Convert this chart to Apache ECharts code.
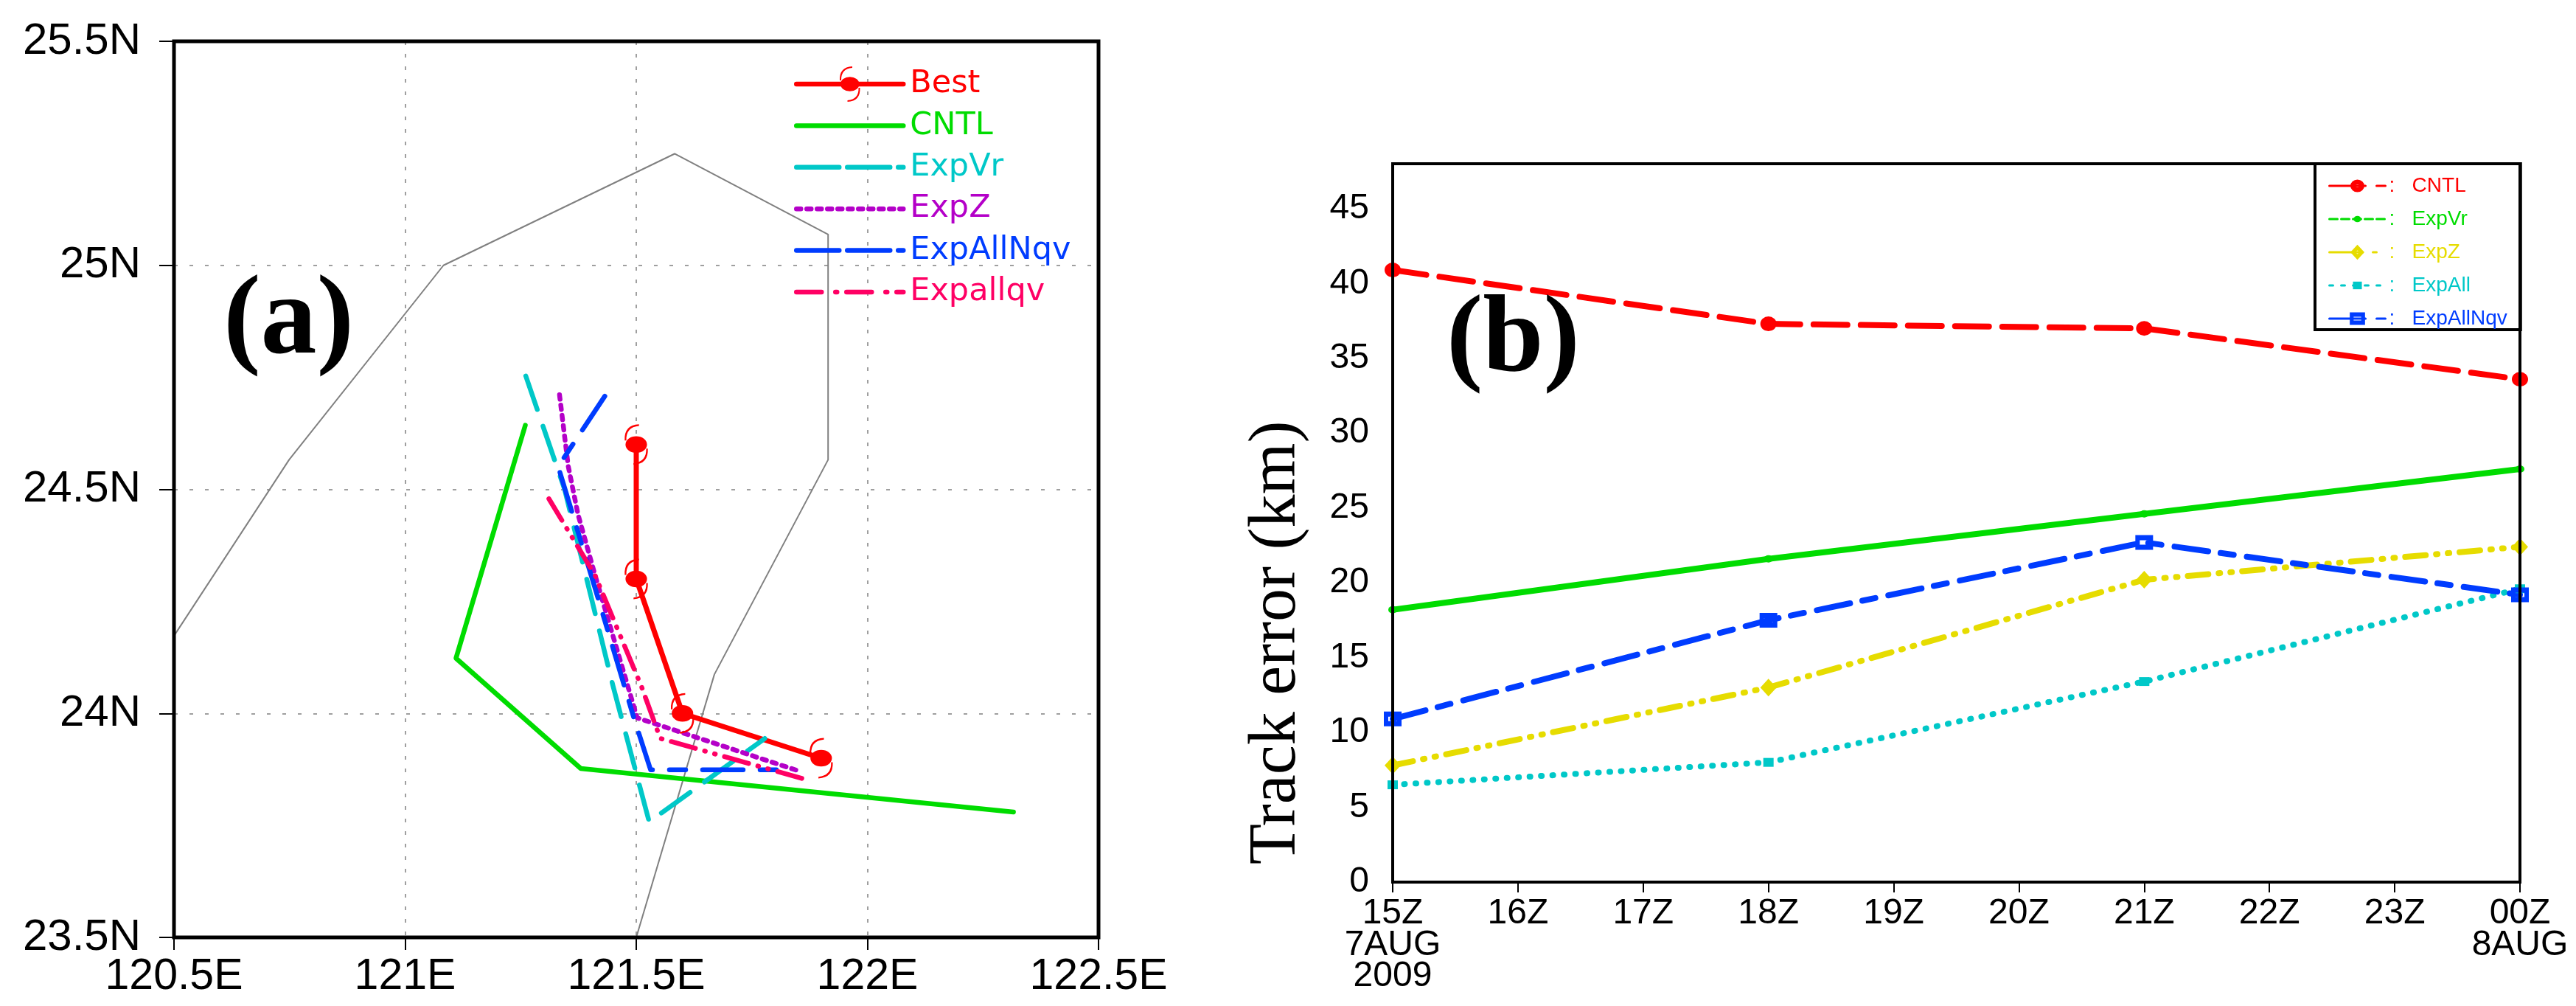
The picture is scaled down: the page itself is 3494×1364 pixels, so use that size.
<!DOCTYPE html>
<html><head><meta charset="utf-8">
<style>html,body{margin:0;padding:0;background:#fff}#c{width:3494px;height:1364px}</style>
<script src="https://cdn.jsdelivr.net/npm/echarts@6/dist/echarts.min.js"></script>
</head><body><div id="c"></div>
<script>
// Panel (a): tracks as [lon, lat]
const coast = [[120.5,24.173],[120.749,24.566],[121.083,25.0],[121.583,25.249],[121.915,25.069],[121.915,24.566],[121.669,24.087],[121.5,23.5]];
const trackBest = [[121.5,24.6],[121.5,24.3],[121.6,24.0],[121.9,23.9]];
const trackCNTL = [[121.26,24.643],[121.11,24.123],[121.38,23.877],[122.316,23.78]];
const trackExpVr = [[121.261,24.753],[121.345,24.5],[121.45,24.06],[121.528,23.758],[121.778,23.944]];
const trackExpZ = [[121.334,24.711],[121.353,24.551],[121.374,24.444],[121.411,24.308],[121.502,23.99],[121.85,23.872]];
const trackExpAllNqv = [[121.432,24.708],[121.331,24.551],[121.411,24.279],[121.496,23.986],[121.531,23.874],[121.826,23.874]];
const trackExpallqv = [[121.311,24.479],[121.411,24.308],[121.512,24.058],[121.552,23.944],[121.878,23.849]];
// Panel (b): track error (km)
const hours = ['15Z\n7AUG\n2009','16Z','17Z','18Z','19Z','20Z','21Z','22Z','23Z','00Z\n8AUG'];
const errCNTL = [40.9,null,null,37.3,null,null,37.0,null,null,33.6];
const errExpVr = [18.2,null,null,21.6,null,null,24.6,null,null,27.6];
const errExpZ = [7.8,null,null,13.0,null,null,20.2,null,null,22.4];
const errExpAll = [6.5,null,null,8.0,null,null,13.4,null,null,19.6];
const errExpAllNqv = [10.9,null,null,17.5,null,null,22.7,null,null,19.2];
const errorTicks = [0,5,10,15,20,25,30,35,40,45];

const RED='#ff0000',GREEN='#00dc00',TEAL='#00c8c8',PURPLE='#b400c8',BLUE='#003cff',PINK='#ff0064',YELLOW='#e6dc00',GRAY='#808080';
const SANS='"Liberation Sans"', LEG='"DejaVu Sans"', SERIF='"Liberation Serif"';

const typhoon='path://M-24.5 -24.5L-24.5 -24.5M24.5 24.5L24.5 24.5M-13 0A13 10 0 1 1 13 0A13 10 0 1 1 -13 0Z'+
 'M3.3 -24.5Q-15 -23.5 -14 -5L-12 -5Q-12.7 -21 3.3 -22.5Z'+
 'M-3.3 24.5Q15 23.5 14 5L12 5Q12.7 21 -3.3 22.5Z';
const pad='M-13 -13L-13 -13M13 13L13 13';
const mkRing='path://'+pad+'M-11 0A11 10 0 1 1 11 0A11 10 0 1 1 -11 0ZM-3 0A3 2 0 1 0 3 0A3 2 0 1 0 -3 0Z';
const mkDot='path://'+pad+'M-6 0A6 5 0 1 1 6 0A6 5 0 1 1 -6 0Z';
const mkDiamond='path://'+pad+'M0 -12L11 0L0 12L-11 0ZM0 -3L-3 0L0 3L3 0Z';
const mkSquare='path://'+pad+'M-7 -6L7 -6L7 6L-7 6Z';
const mkBox='path://'+pad+'M-12 -10L12 -10L12 10L-12 10ZM-6 -3L-6 3L6 3L6 -3Z';

function track(name,data,color,type,extra){
  return Object.assign({name,type:'line',xAxisIndex:0,yAxisIndex:0,data,color,symbol:'none',silent:true,animation:false,clip:false,
    lineStyle:{color,width:6.5,type,cap:'round',join:'round'},itemStyle:{color}},extra||{});
}
function err(name,data,color,type,symbol,w){
  return {name:'b '+name,type:'line',xAxisIndex:1,yAxisIndex:1,data,color,connectNulls:true,symbol,symbolSize:26,symbolKeepAspect:true,showSymbol:true,
    silent:true,animation:false,clip:false,lineStyle:{color,width:w||8,type,cap:'round',join:'round'},itemStyle:{color}};
}
const hide={opacity:0};
const legA=[['Best',RED,{},'solid'],['CNTL',GREEN,hide,'solid'],['ExpVr',TEAL,hide,[58,11]],['ExpZ',PURPLE,hide,[6,8]],['ExpAllNqv',BLUE,hide,[58,11]],['Expallqv',PINK,hide,[34,19,2,13]]];
const legB=[['CNTL',RED,[49,15,13,200]],['ExpVr',GREEN,[11,5]],['ExpZ',YELLOW,[45,14,5,200]],['ExpAll',TEAL,[5,11]],['ExpAllNqv',BLUE,[49,15,13,200]]];

const option={
  backgroundColor:'#fff',
  animation:false,
  grid:[
    {left:236,top:56,width:1254,height:1215,containLabel:false,show:true,borderColor:'#000',borderWidth:5,backgroundColor:'transparent',z:5},
    {left:1889,top:222,width:1529,height:974,containLabel:false,show:true,borderColor:'#000',borderWidth:4,backgroundColor:'transparent',z:5}
  ],
  xAxis:[
    {gridIndex:0,type:'value',min:120.5,max:122.5,interval:0.5,axisLine:{show:false},
     axisTick:{length:17,lineStyle:{color:'#000',width:2}},
     axisLabel:{margin:24,color:'#000',fontFamily:SANS,fontSize:59,formatter:v=>v+'E'},
     splitLine:{show:true,lineStyle:{color:GRAY,width:1.5,type:[5,12]}}},
    {gridIndex:1,type:'category',data:hours,boundaryGap:false,axisLine:{show:false},
     axisTick:{show:true,alignWithLabel:true,length:14,interval:0,lineStyle:{color:'#000',width:2}},
     axisLabel:{interval:0,margin:22,color:'#000',fontFamily:SANS,fontSize:48,lineHeight:42.5,align:'center',verticalAlign:'top',hideOverlap:false},
     splitLine:{show:false}}
  ],
  yAxis:[
    {gridIndex:0,type:'value',min:23.5,max:25.5,interval:0.5,axisLine:{show:false},
     axisTick:{length:20,lineStyle:{color:'#000',width:2}},
     axisLabel:{margin:45,color:'#000',fontFamily:SANS,fontSize:60,formatter:v=>v+'N'},
     splitLine:{show:true,lineStyle:{color:GRAY,width:1.5,type:[5,16]}}},
    {gridIndex:1,type:'value',min:0,max:48,interval:5,axisLine:{show:false},
     axisTick:{length:16,customValues:errorTicks,lineStyle:{color:'#000',width:2}},
     axisLabel:{margin:32,color:'#000',fontFamily:SANS,fontSize:48,customValues:errorTicks},
     splitLine:{show:false},
     name:'Track error (km)',nameLocation:'start',nameRotate:90,nameGap:-24,nameMoveOverlap:false,
     nameTextStyle:{fontFamily:SERIF,fontSize:90,color:'#000',align:'left',verticalAlign:'bottom',padding:[0,0,112,0]}}
  ],
  legend:[
    {left:1077,top:90,orient:'vertical',padding:0,itemWidth:145,itemHeight:60,itemGap:8.4,selectedMode:false,
     data:legA.map(([name,color,it,dash])=>({name,textStyle:{color,fontFamily:LEG,fontSize:43,padding:[0,0,0,4]},itemStyle:it,lineStyle:{width:6.5,type:dash}}))},
    {left:3140,top:222,orient:'vertical',padding:[16,18,1,18],itemWidth:76,itemHeight:28,itemGap:17,selectedMode:false,
     borderColor:'#000',borderWidth:4,backgroundColor:'#fff',
     formatter:n=>':   '+n.slice(2),
     data:legB.map(([name,color,dash])=>({name:'b '+name,textStyle:{color,fontFamily:SANS,fontSize:28,padding:[0,0,18,0]},lineStyle:{width:3,type:dash}}))}
  ],
  graphic:[
    {type:'text',left:303,top:363,z:20,style:{text:'(a)',fontFamily:SERIF,fontWeight:'bold',fontSize:152,fill:'#000'}},
    {type:'text',left:1962,top:390,z:20,style:{text:'(b)',fontFamily:SERIF,fontWeight:'bold',fontSize:148,fill:'#000'}}
  ],
  series:[
    track('coast',coast,GRAY,'solid',{lineStyle:{color:GRAY,width:2}}),
    track('Best',trackBest,RED,'solid',{symbol:typhoon,symbolSize:55,symbolKeepAspect:true,showSymbol:true,lineStyle:{color:RED,width:7,cap:'round'}}),
    track('CNTL',trackCNTL,GREEN,'solid'),
    track('ExpVr',trackExpVr,TEAL,[48,24]),
    track('ExpZ',trackExpZ,PURPLE,[6,8]),
    track('ExpAllNqv',trackExpAllNqv,BLUE,[55,23,22,23]),
    track('Expallqv',trackExpallqv,PINK,[34,13,1,13,1,13]),
    err('CNTL',errCNTL,RED,[46,18],mkRing),
    err('ExpVr',errExpVr,GREEN,'solid',mkDot),
    err('ExpZ',errExpZ,YELLOW,[28,14,2,14,2,14],mkDiamond),
    err('ExpAll',errExpAll,TEAL,[1,14.5],mkSquare,8),
    err('ExpAllNqv',errExpAllNqv,BLUE,[46,17,18,18],mkBox)
  ]
};
const chart=echarts.init(document.getElementById('c'),null,{width:3494,height:1364});
chart.setOption(option);
</script></body></html>
